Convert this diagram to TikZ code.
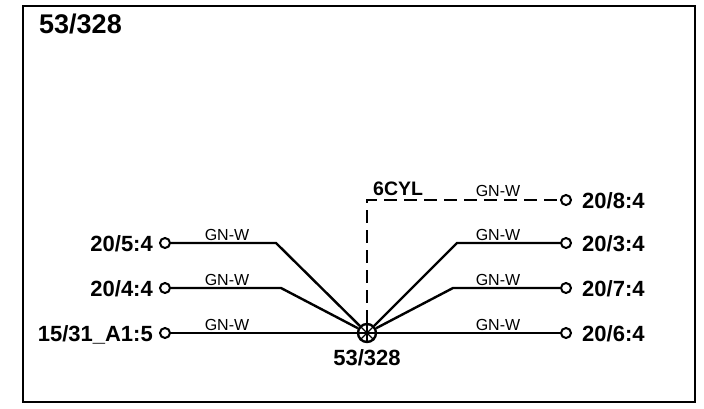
\documentclass[tikz,border=0pt]{standalone}
\usepackage{fontspec}
\setmainfont{Liberation Sans}
\begin{document}
\begin{tikzpicture}[x=1pt,y=-1pt,
  term/.style={circle,draw,line width=2pt,minimum size=10pt,inner sep=0pt,fill=white},
  splice/.style={circle,draw,line width=2.4pt,minimum size=18pt,inner sep=0pt,fill=white},
  spoke/.style={line width=1.2pt},
  wire/.style={line width=2.4pt},
  dwire/.style={line width=2.4pt,dash pattern=on 13pt off 7pt},
  lbl/.style={font=\fontsize{22}{22}\selectfont\bfseries,inner sep=0pt},
  cyl/.style={font=\fontsize{19.5}{19.5}\selectfont\bfseries,inner sep=0pt},
  ttl/.style={font=\fontsize{27}{27}\selectfont\bfseries,inner sep=0pt},
  wl/.style={font=\fontsize{16}{16}\selectfont,inner sep=0pt},
]
\useasboundingbox (0,0) rectangle (704,408);
\draw[line width=2.8pt] (23,6) rectangle (695,402);
\node[ttl,anchor=base west] (title) at (39,33) {53/328};

% splice
\node[splice] (sp) at (367,333) {};
\foreach \a in {0,45,...,315} \draw[spoke] (sp.center) -- (sp.\a);
\node[lbl,anchor=base] (splbl) at (367,365) {53/328};

% left terminals
\node[term] (l1) at (165,243) {};
\node[term] (l2) at (165,288) {};
\node[term] (l3) at (165,333) {};
\node[lbl,anchor=base east] (l1t) at (153,251) {20/5:4};
\node[lbl,anchor=base east] (l2t) at (153,296) {20/4:4};
\node[lbl,anchor=base east] (l3t) at (153,341) {15/31\_A1:5};

% right terminals
\node[term] (r0) at (566,200) {};
\node[term] (r1) at (566,243) {};
\node[term] (r2) at (566,288) {};
\node[term] (r3) at (566,333) {};
\node[lbl,anchor=base west] (r0t) at (582,208) {20/8:4};
\node[lbl,anchor=base west] (r1t) at (582,251) {20/3:4};
\node[lbl,anchor=base west] (r2t) at (582,296) {20/7:4};
\node[lbl,anchor=base west] (r3t) at (582,341) {20/6:4};

% bends
\coordinate (bl1) at (276,243);
\coordinate (bl2) at (281,288);
\coordinate (br1) at (457,243);
\coordinate (br2) at (453,288);
\coordinate (c6) at (367,200);

\draw[wire] (l1) -- (bl1) -- (sp);
\draw[wire] (l2) -- (bl2) -- (sp);
\draw[wire] (l3) -- (sp);
\draw[wire] (r1) -- (br1) -- (sp);
\draw[wire] (r2) -- (br2) -- (sp);
\draw[wire] (r3) -- (sp);
\draw[dwire] (sp) -- (c6) -- (r0);

% wire labels
\node[wl,anchor=base] (w1) at (227,240) {GN-W};
\node[wl,anchor=base] (w2) at (227,285) {GN-W};
\node[wl,anchor=base] (w3) at (227,330) {GN-W};
\node[wl,anchor=base] (w0r) at (498,196) {GN-W};
\node[wl,anchor=base] (w1r) at (498,240) {GN-W};
\node[wl,anchor=base] (w2r) at (498,285) {GN-W};
\node[wl,anchor=base] (w3r) at (498,330) {GN-W};
\node[cyl,anchor=base west] (cyl) at (373,195) {6CYL};
\end{tikzpicture}
\end{document}
